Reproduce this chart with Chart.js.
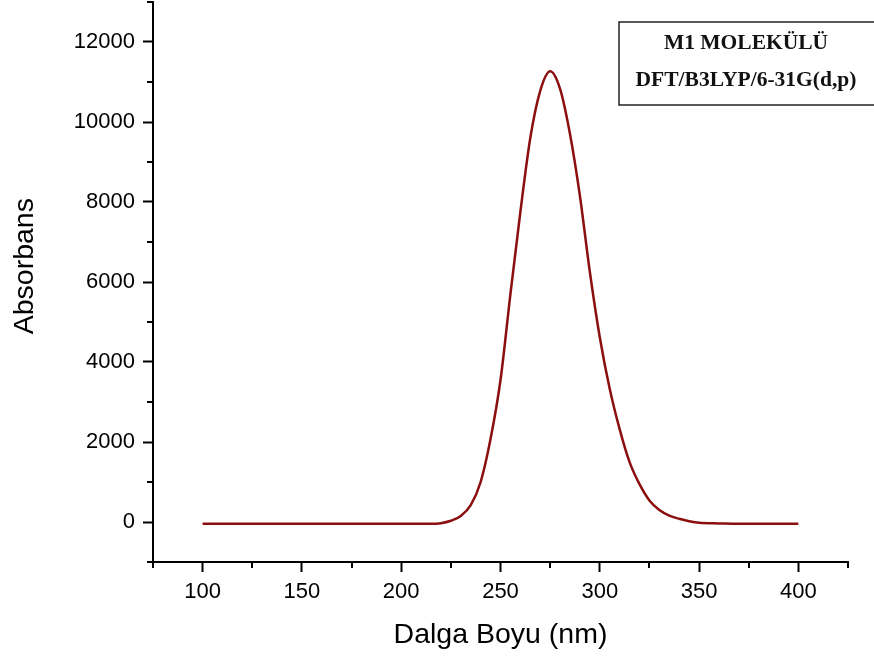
<!DOCTYPE html>
<html>
<head>
<meta charset="utf-8">
<script src="https://cdn.jsdelivr.net/npm/chart.js@4"></script>
<style>
  html, body { margin: 0; padding: 0; background: #fff; }
  #wrap { width: 874px; height: 659px; }
</style>
</head>
<body>
<div id="wrap"><canvas id="spectrum"></canvas></div>
<script>
// wavelength (nm) and absorbance
const wavelengths = [100, 150, 200, 215, 220, 225, 230, 235, 240, 245, 250, 255, 260, 265, 270, 275,
    280, 285, 290, 295, 300, 305, 310, 315, 320, 325, 330, 335, 340, 345, 350, 360, 370, 400];
const absorbans = [-45, -45, -45, -45, -30, 30, 150, 420, 1000, 2080, 3550, 5700, 7750, 9600, 10780, 11270,
    10830, 9700, 8150, 6250, 4620, 3330, 2320, 1495, 945, 540, 300, 160, 80, 20, -20, -35, -45, -45];

const xMajorTicks = [100, 150, 200, 250, 300, 350, 400];
const xMinorTicks = [75, 125, 175, 225, 275, 325, 375, 425];
const yMajorTicks = [0, 2000, 4000, 6000, 8000, 10000, 12000];
const yMinorTicks = [-1000, 1000, 3000, 5000, 7000, 9000, 11000, 13000];

const legendLines = ["M1 MOLEKÜLÜ", "DFT/B3LYP/6-31G(d,p)"];

const points = wavelengths.map((x, i) => ({ x: x, y: absorbans[i] }));

// minor ticks + the text box in the top right corner
const extras = {
    id: "extras",
    afterDraw(chart) {
        const ctx = chart.ctx;
        const xs = chart.scales.x;
        const ys = chart.scales.y;
        ctx.save();
        ctx.strokeStyle = "#000";
        ctx.lineWidth = 2;
        ctx.beginPath();
        xMinorTicks.forEach((v) => {
            const px = Math.round(xs.getPixelForValue(v));
            ctx.moveTo(px, xs.top);
            ctx.lineTo(px, xs.top + 6);
        });
        yMinorTicks.forEach((v) => {
            const py = Math.round(ys.getPixelForValue(v));
            ctx.moveTo(ys.right, py);
            ctx.lineTo(ys.right - 6, py);
        });
        ctx.stroke();

        // box
        ctx.strokeStyle = "#222";
        ctx.lineWidth = 1.5;
        ctx.strokeRect(619, 22, 280, 83);
        ctx.fillStyle = "#111";
        ctx.font = "bold 21.5px 'Liberation Serif', 'Times New Roman', serif";
        ctx.textAlign = "center";
        ctx.textBaseline = "middle";
        ctx.fillText(legendLines[0], 746, 43);
        ctx.fillText(legendLines[1], 746, 80);
        ctx.restore();
    },
};

const axisFont = { family: "'Liberation Sans', Arial, sans-serif", size: 22 };
const titleFont = { family: "'Liberation Sans', Arial, sans-serif", size: 28.5 };

new Chart(document.getElementById("spectrum"), {
    type: "line",
    data: {
        datasets: [
            {
                data: points,
                borderColor: "#8b0f0f",
                borderWidth: 2.5,
                pointRadius: 0,
                cubicInterpolationMode: "monotone",
                fill: false,
            },
        ],
    },
    options: {
        responsive: true,
        maintainAspectRatio: false,
        animation: false,
        layout: { padding: { left: 0, right: 26, top: 2, bottom: 0 } },
        plugins: { legend: { display: false }, tooltip: { enabled: false } },
        scales: {
            x: {
                type: "linear",
                min: 75,
                max: 425,
                afterBuildTicks: (s) => { s.ticks = xMajorTicks.map((v) => ({ value: v })); },
                afterFit: (s) => { s.height = 97; s.paddingLeft = 0; s.paddingRight = 0; },
                ticks: { color: "#000", font: axisFont, padding: 7, maxRotation: 0, callback: (v) => String(v) },
                grid: { display: true, drawOnChartArea: false, drawTicks: true, tickLength: 10, tickColor: "#000", tickWidth: 2 },
                border: { display: true, color: "#000", width: 2 },
                title: { display: true, text: "Dalga Boyu (nm)", color: "#000", font: titleFont, padding: { top: 0, bottom: 7 } },
            },
            y: {
                min: -1000,
                max: 13000,
                afterBuildTicks: (s) => { s.ticks = yMajorTicks.map((v) => ({ value: v })); },
                afterFit: (s) => { s.width = 153; s.paddingTop = 0; s.paddingBottom = 0; },
                ticks: { color: "#000", font: axisFont, padding: 8, callback: (v) => String(v) },
                grid: { display: true, drawOnChartArea: false, drawTicks: true, tickLength: 10, tickColor: "#000", tickWidth: 2 },
                border: { display: true, color: "#000", width: 2 },
                title: { display: true, text: "    Absorbans", color: "#000", font: titleFont, padding: { top: 8, bottom: 0 } },
            },
        },
    },
    plugins: [extras],
});
</script>
</body>
</html>
